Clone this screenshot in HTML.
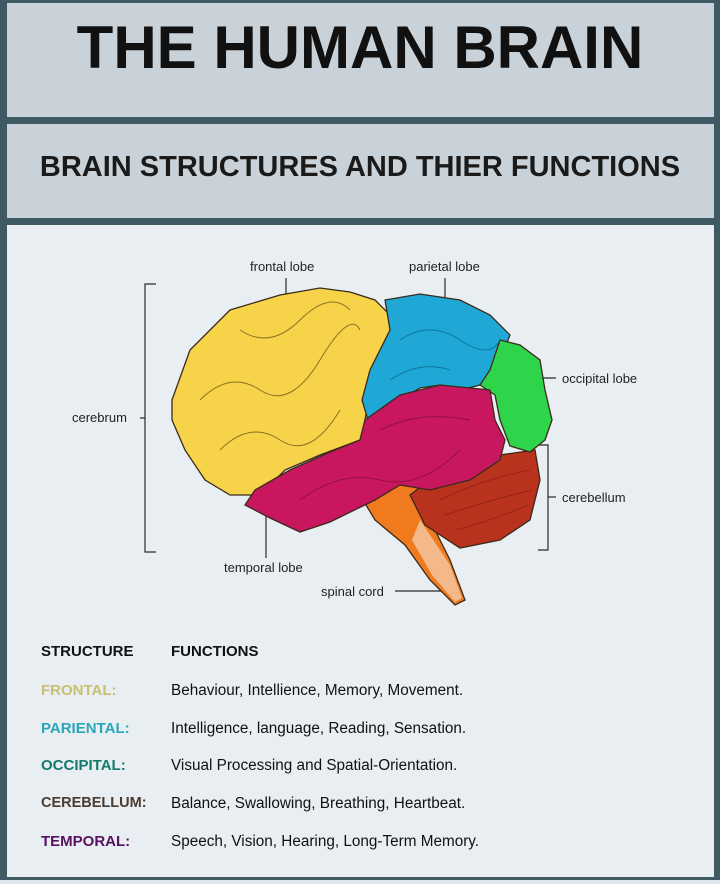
<!DOCTYPE html>
<html><head><meta charset="utf-8"><style>
html,body{margin:0;padding:0;}
body{width:720px;height:884px;background:#dfe6ea;position:relative;overflow:hidden;font-family:"Liberation Sans",sans-serif;}
.frame{position:absolute;left:0;top:0;width:720px;height:880px;background:#3f5a63;}
.box{position:absolute;left:7px;width:707px;background:#c9d2d8;}
.t1{top:3px;height:114px;}
.t2{top:124px;height:94px;}
.body{position:absolute;left:7px;top:225px;width:707px;height:652px;background:#e8eef2;}
.abs{position:absolute;white-space:nowrap;}
h1{position:absolute;margin:0;left:0;width:720px;top:13px;text-align:center;font-size:60px;font-weight:bold;color:#111;}
h2{position:absolute;margin:0;left:0;width:720px;top:151px;text-align:center;font-size:29px;font-weight:bold;color:#1a1a1a;}
.lbl{font-size:13px;color:#222;}
.tb{font-size:15.3px;color:#111;}
.st{font-size:15px;font-weight:bold;}
</style></head><body>
<div class="frame"></div>
<div class="box t1"></div>
<div class="box t2"></div>
<div class="body"></div>
<h1>THE HUMAN BRAIN</h1>
<h2>BRAIN STRUCTURES AND THIER FUNCTIONS</h2>
<svg class="abs" style="left:0;top:0" width="720" height="884" viewBox="0 0 720 884">
<g stroke="#2a2a2a" stroke-width="1.2" fill="none">
<path d="M156,284 H145 V552 H156"/>
<path d="M145,418 H140"/>
<path d="M538,445 H548 V550 H538"/>
<path d="M548,497 H556"/>
<path d="M286,278 V305"/>
<path d="M445,278 V305"/>
<path d="M532,378 H556"/>
<path d="M266,515 V558"/>
<path d="M395,591 H445"/>
</g>
<g stroke="#3a2a1a" stroke-width="1.3">
<path fill="#f07a1e" d="M360,495 L390,485 L420,480 L430,520 L450,560 L465,600 L455,605 L430,580 L405,545 L375,520 Z"/>
<path fill="#f3b98a" stroke="none" d="M420,520 L450,565 L462,598 L455,602 L432,575 L412,540 Z"/>
<path fill="#b8321e" d="M430,480 L500,455 L535,450 L540,480 L530,520 L500,540 L460,548 L425,525 L410,495 Z"/>
<path fill="#f7d34a" d="M172,400 L190,350 L230,310 L280,295 L320,288 L350,292 L375,300 L395,320 L385,360 L370,390 L365,420 L360,440 L320,455 L285,470 L260,495 L230,495 L205,480 L185,450 L172,420 Z"/>
<path fill="#1fa8d6" d="M385,300 L420,294 L460,300 L490,315 L510,335 L500,360 L480,385 L460,390 L440,385 L420,388 L400,400 L368,420 L362,400 L370,370 L390,330 Z"/>
<path fill="#2ed44a" d="M500,340 L520,345 L540,360 L545,390 L552,420 L545,440 L530,452 L510,446 L500,420 L495,395 L480,385 L490,370 Z"/>
<path fill="#c8175f" d="M365,420 L400,395 L440,385 L490,390 L495,420 L505,440 L500,460 L470,480 L430,490 L400,485 L375,500 L330,522 L300,532 L270,518 L245,505 L255,490 L290,470 L330,452 L360,440 Z"/>
</g>
<g stroke="#5a4a10" stroke-width="1" fill="none" opacity="0.7">
<path d="M200,400 Q230,370 260,390 T320,360 T360,330"/><path d="M220,450 Q250,420 280,440 T340,410"/><path d="M240,330 Q270,350 300,320 T350,310"/>
</g>
<g stroke="#0b5f86" stroke-width="1" fill="none" opacity="0.7"><path d="M400,340 Q430,320 460,340 T500,340"/><path d="M390,380 Q420,360 450,370"/></g>
<g stroke="#7a0f3a" stroke-width="1" fill="none" opacity="0.7"><path d="M300,500 Q340,470 380,480 T460,450"/><path d="M380,430 Q420,410 470,420"/></g>
<g stroke="#7a1a10" stroke-width="0.8" fill="none" opacity="0.7"><path d="M440,500 Q480,480 530,470"/><path d="M445,515 Q490,500 532,490"/><path d="M455,530 Q495,520 528,505"/></g>
</svg>
<div class="abs lbl" style="left:250px;top:259px;">frontal lobe</div>
<div class="abs lbl" style="left:409px;top:259px;">parietal lobe</div>
<div class="abs lbl" style="left:562px;top:371px;">occipital lobe</div>
<div class="abs lbl" style="left:72px;top:410px;">cerebrum</div>
<div class="abs lbl" style="left:562px;top:490px;">cerebellum</div>
<div class="abs lbl" style="left:224px;top:560px;">temporal lobe</div>
<div class="abs lbl" style="left:321px;top:584px;">spinal cord</div>
<div class="abs st" style="left:41px;top:643px;color:#111;">STRUCTURE</div>
<div class="abs st" style="left:171px;top:643px;color:#111;">FUNCTIONS</div>
<div class="abs st" style="left:41px;top:682px;color:#c8c070;">FRONTAL:</div>
<div class="abs st" style="left:41px;top:720px;color:#2aa6b8;">PARIENTAL:</div>
<div class="abs st" style="left:41px;top:757px;color:#147a6e;">OCCIPITAL:</div>
<div class="abs st" style="left:41px;top:795px;color:#4a3a30;font-size:14.5px;">CEREBELLUM:</div>
<div class="abs st" style="left:41px;top:833px;color:#5a1060;">TEMPORAL:</div>
<div class="abs tb" style="left:171px;top:682px;">Behaviour, Intellience, Memory, Movement.</div>
<div class="abs tb" style="left:171px;top:720px;">Intelligence, language, Reading, Sensation.</div>
<div class="abs tb" style="left:171px;top:757px;">Visual Processing and Spatial-Orientation.</div>
<div class="abs tb" style="left:171px;top:795px;">Balance, Swallowing, Breathing, Heartbeat.</div>
<div class="abs tb" style="left:171px;top:833px;">Speech, Vision, Hearing, Long-Term Memory.</div>
</body></html>
